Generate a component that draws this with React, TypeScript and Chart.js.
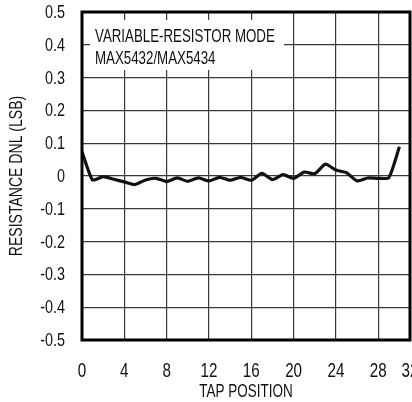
import React, { useEffect, useRef } from "react";
import { Chart, registerables } from "chart.js";

Chart.register(...registerables);

const tapPositions: number[] = [0, 1, 2, 3, 4, 5, 6, 7, 8, 9, 10, 11, 12, 13, 14, 15, 16, 17, 18, 19, 20, 21, 22, 23, 24, 25, 26, 27, 28, 29, 30];
const dnlValues: number[] = [0.074, -0.012, -0.002, -0.01, -0.018, -0.026, -0.012, -0.007, -0.017, -0.006, -0.016, -0.006, -0.015, -0.004, -0.013, -0.004, -0.013, 0.008, -0.011, 0.004, -0.007, 0.012, 0.007, 0.036, 0.018, 0.01, -0.015, -0.006, -0.007, -0.005, 0.089];
const xTickValues: number[] = [0, 4, 8, 12, 16, 20, 24, 28, 31];
const xTickLabels: string[] = ["0", "4", "8", "12", "16", "20", "24", "28", "32"];
const yTitle = "RESISTANCE DNL (LSB)";
const xTitle = "TAP POSITION";
const noteLines: string[] = ["VARIABLE-RESISTOR MODE", "MAX5432/MAX5434"];

const FONT = "'Liberation Sans', Arial, sans-serif";

function condText(ctx: any, text: string, x: number, y: number, size: number, k: number, align: string) {
  ctx.save();
  ctx.font = `${size}px ${FONT}`;
  ctx.textBaseline = "alphabetic";
  ctx.textAlign = align;
  ctx.translate(x, y);
  ctx.scale(k, 1);
  ctx.fillText(text, 0, 0);
  ctx.restore();
}

function yLabel(v: number) {
  return String(Math.round(v * 10) / 10);
}

export default function App() {
  const ref = useRef<HTMLCanvasElement | null>(null);

  useEffect(() => {
    if (!ref.current) return;
    const decor = {
      id: "decor",
      beforeDatasetsDraw(chart: any) {
        const ctx = chart.ctx;
        const a = chart.chartArea;
        ctx.save();
        ctx.fillStyle = "#fff";
        ctx.fillRect(a.left + 8, a.top + 8, 194, 50);
        ctx.fillStyle = "#111";
        noteLines.forEach((t, i) => {
          condText(ctx, t, a.left + 13, a.top + 30 + i * 21.5, 19, 0.7, "left");
        });
        ctx.restore();
      },
      afterDatasetsDraw(chart: any) {
        const ctx = chart.ctx;
        const a = chart.chartArea;
        const xs = chart.scales.x;
        const ys = chart.scales.y;
        ctx.save();
        ctx.strokeStyle = "#000";
        ctx.lineWidth = 3;
        ctx.strokeRect(a.left, a.top, a.right - a.left, a.bottom - a.top);
        ctx.fillStyle = "#111";
        // y tick labels
        ys.ticks.forEach((t: any) => {
          const py = ys.getPixelForValue(t.value);
          condText(ctx, yLabel(t.value), a.left - 17, py + 6, 18, 0.8, "right");
        });
        // x tick labels
        xs.ticks.forEach((t: any) => {
          const px = xs.getPixelForValue(t.value);
          const i = xTickValues.indexOf(t.value);
          condText(ctx, i >= 0 ? xTickLabels[i] : "", px, a.bottom + 37, 20, 0.76, "center");
        });
        // titles
        ctx.save();
        ctx.translate(22, (a.top + a.bottom) / 2);
        ctx.rotate(-Math.PI / 2);
        condText(ctx, yTitle, 0, 0, 18, 0.78, "center");
        ctx.restore();
        condText(ctx, xTitle, (a.left + a.right) / 2, 397, 19, 0.71, "center");
        ctx.restore();
      },
    };

    const chart = new Chart(ref.current, {
      type: "line",
      data: {
        datasets: [
          {
            data: tapPositions.map((x, i) => ({ x, y: dnlValues[i] })),
            borderColor: "#111",
            borderWidth: 3.2,
            pointRadius: 0,
            tension: 0.2,
            fill: false,
          },
        ],
      },
      options: {
        animation: false,
        responsive: true,
        maintainAspectRatio: false,
        layout: { padding: { top: 12, right: 20, left: 0, bottom: 0 } },
        plugins: { legend: { display: false }, tooltip: { enabled: false } },
        scales: {
          x: {
            type: "linear",
            min: 0,
            max: 31,
            afterBuildTicks(scale: any) {
              scale.ticks = xTickValues.map((v) => ({ value: v }));
            },
            afterFit(scale: any) {
              scale.height = 62;
            },
            grid: { color: "#3a3a3a", lineWidth: 1.2, drawTicks: false },
            border: { display: false },
            ticks: { display: false, autoSkip: false, maxRotation: 0 },
          },
          y: {
            min: -0.5,
            max: 0.5,
            afterFit(scale: any) {
              scale.width = 82;
            },
            grid: { color: "#3a3a3a", lineWidth: 1.2, drawTicks: false },
            border: { display: false },
            ticks: { display: false, stepSize: 0.1 },
          },
        },
      },
      plugins: [decor],
    });
    return () => chart.destroy();
  }, []);

  return (
    <div style={{ position: "absolute", left: 0, top: 0, width: 412, height: 402, overflow: "hidden", background: "#fff" }}>
      <div style={{ position: "relative", width: 430, height: 402 }}>
        <canvas ref={ref} />
      </div>
    </div>
  );
}
